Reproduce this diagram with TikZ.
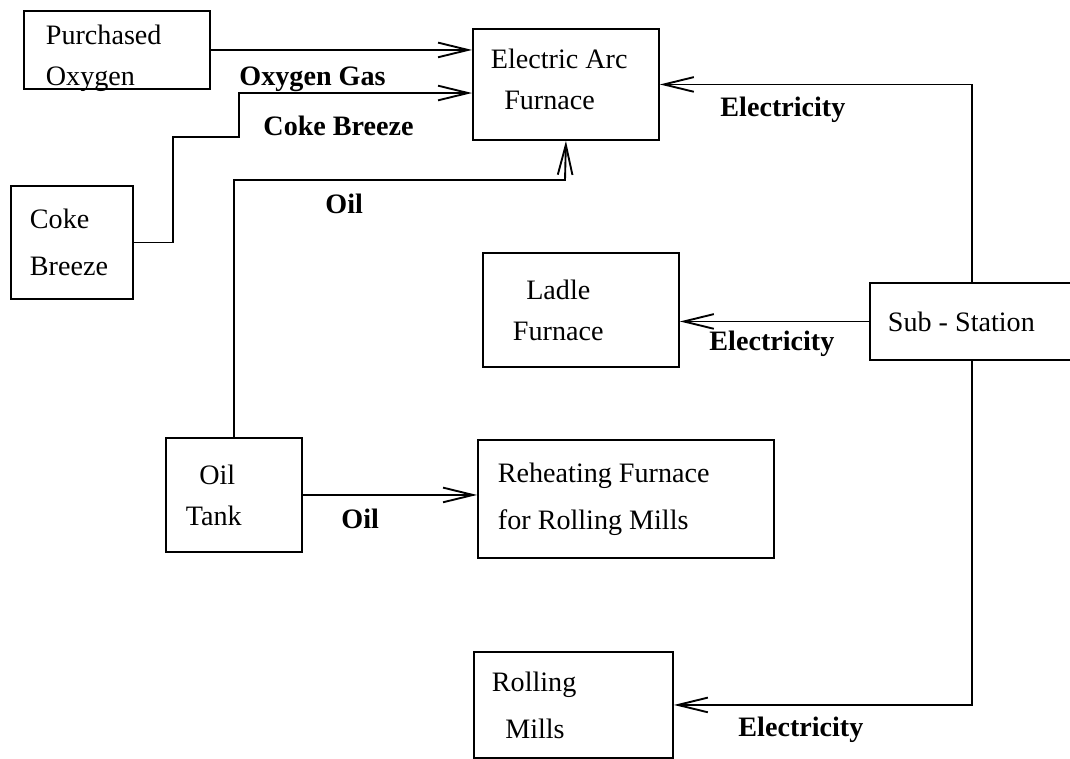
\documentclass[tikz,border=0pt]{standalone}
\usepackage{fontspec}
\setmainfont{Liberation Serif}
\usetikzlibrary{arrows.meta}
\newcommand{\ind}{\hspace*{0.2cm}}
\tikzset{
  unitbox/.style={
    draw,
    line width=0.8pt,
    anchor=north west,
    align=flush left,
    inner ysep=0pt,
    font=\fontsize{12}{17.5}\selectfont
  },
  widebox/.style={
    unitbox,
    font=\fontsize{12}{20}\selectfont
  },
  flowlabel/.style={
    font=\bfseries\fontsize{12}{14}\selectfont,
    anchor=base west,
    inner sep=0pt
  },
  flowarrow/.style={-{Straight Barb[length=0.45cm,width=0.22cm]}, line width=0.8pt}
}

\begin{document}
\begin{tikzpicture}[x=0.015cm,y=-0.015cm]
  \useasboundingbox (0,0) rectangle (1070,758);
  \clip (0,0) rectangle (1070,758);
  % units
  \node[unitbox,inner xsep=0.33cm,text width=2.13cm,minimum height=1.17cm,text height=14pt,text depth=19pt] (po) at (23,10) {Purchased\\Oxygen};
  \node[widebox,inner xsep=0.285cm,text width=1.26cm,minimum height=1.695cm] (cb) at (10,185) {Coke\\Breeze};
  \node[unitbox,inner xsep=0.27cm,text width=2.25cm,minimum height=1.665cm,text depth=22pt] (eaf) at (472,28) {Electric Arc\\\ind Furnace};
  \node[unitbox,inner xsep=0.45cm,text width=2.04cm,minimum height=1.71cm] (ladle) at (482,252) {\ind Ladle\\Furnace};
  \node[unitbox,inner xsep=0.27cm,text width=2.52cm,minimum height=1.155cm] (sub) at (869,282) {Sub - Station};
  \node[unitbox,inner xsep=0.3cm,text width=1.44cm,minimum height=1.71cm] (tank) at (165,437) {\ind Oil\\Tank};
  \node[widebox,inner xsep=0.3cm,text width=3.84cm,minimum height=1.77cm] (reheat) at (477,439) {Reheating Furnace\\for Rolling Mills};
  \node[widebox,inner xsep=0.27cm,text width=2.445cm,minimum height=1.59cm] (mills) at (473,651) {Rolling\\\ind Mills};
  % flow labels
  \node[flowlabel] (gaslbl) at (239,85) {Oxygen Gas};
  \node[flowlabel] (cokelbl) at (263,135) {Coke Breeze};
  \node[flowlabel] (oillbla) at (325,213) {Oil};
  \node[flowlabel] (eleca) at (720,116) {Electricity};
  \node[flowlabel] (elecb) at (709,350) {Electricity};
  \node[flowlabel] (oillblb) at (341,528) {Oil};
  \node[flowlabel] (elecc) at (738,736) {Electricity};
  % bends
  \coordinate (cbk1) at (173,137);
  \coordinate (cbk2) at (239,93);
  \coordinate (oilk) at (565,180);
  % flows
  \draw[flowarrow] (po.east) -- (po.east -| eaf.west);
  \draw[flowarrow] (cb.east) -| (cbk1) -| (cbk2) -- (cbk2 -| eaf.west);
  \draw[flowarrow] (tank.north) |- (oilk) -- (eaf.south);
  \draw[flowarrow] (sub.north) |- (eaf.east);
  \draw[flowarrow] (sub.west) -- (sub.west -| ladle.east);
  \draw[flowarrow] (sub.south) |- (mills.east);
  \draw[flowarrow] (tank.east) -- (tank.east -| reheat.west);
\end{tikzpicture}
\end{document}
